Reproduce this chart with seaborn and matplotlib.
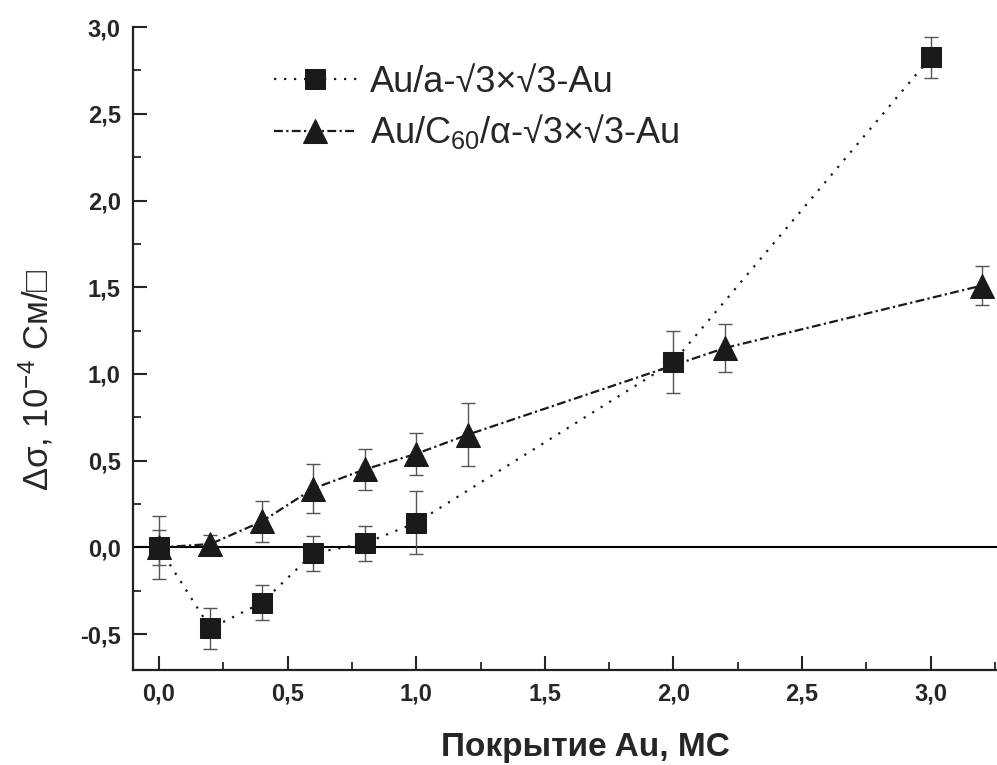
import numpy as np
import pandas as pd
import matplotlib
matplotlib.use("Agg")
import matplotlib.pyplot as plt
import seaborn as sns
from matplotlib.ticker import MultipleLocator, FuncFormatter

# data
sq_x = [0.0, 0.2, 0.4, 0.6, 0.8, 1.0, 2.0, 3.0]
sq_y = [0.0, -0.466, -0.318, -0.033, 0.024, 0.143, 1.069, 2.825]
sq_err = [0.18, 0.12, 0.10, 0.10, 0.10, 0.18, 0.18, 0.12]

tr_x = [0.0, 0.2, 0.4, 0.6, 0.8, 1.0, 1.2, 2.2, 3.2]
tr_y = [0.0, 0.02, 0.15, 0.34, 0.45, 0.54, 0.65, 1.15, 1.51]
tr_err = [0.10, 0.05, 0.12, 0.14, 0.12, 0.12, 0.18, 0.14, 0.11]

label_sq = "Au/a-√3×√3-Au"
label_tr = "Au/C$_{60}$/α-√3×√3-Au"

sq = pd.DataFrame({"x": sq_x, "y": sq_y})
tr = pd.DataFrame({"x": tr_x, "y": tr_y})

sns.set_style("ticks")
plt.rcParams["font.family"] = ["Liberation Sans", "DejaVu Sans"]
plt.rcParams["mathtext.default"] = "regular"

fig = plt.figure(figsize=(9.97, 7.65), dpi=100)
ax = fig.add_axes([0.1337, 0.1242, 0.8663, 0.8405])

# zero line
ax.axhline(0, color="black", lw=1.5, zorder=1)

# error bars
ax.errorbar(sq_x, sq_y, yerr=sq_err, fmt="none", ecolor="#555555",
            elinewidth=1.0, capsize=5, capthick=1.0, zorder=2)
ax.errorbar(tr_x, tr_y, yerr=tr_err, fmt="none", ecolor="#555555",
            elinewidth=1.0, capsize=5, capthick=1.0, zorder=2)

# series
sns.lineplot(data=sq, x="x", y="y", ax=ax, color="#1a1a1a", lw=1.6,
             marker="s", markersize=14, markeredgecolor="#1a1a1a",
             dashes=False, linestyle=(0, (1, 3.5)), label=label_sq,
             zorder=3, sort=False)
sns.lineplot(data=tr, x="x", y="y", ax=ax, color="#1a1a1a", lw=1.6,
             marker="^", markersize=17, markeredgecolor="#1a1a1a",
             dashes=False, linestyle=(0, (4, 1.5, 1, 1.5)), label=label_tr,
             zorder=3, sort=False)

ax.set_xlim(-0.1, 3.258)
ax.set_ylim(-0.706, 3.0)

ax.xaxis.set_major_locator(MultipleLocator(0.5))
ax.xaxis.set_minor_locator(MultipleLocator(0.25))
ax.yaxis.set_major_locator(MultipleLocator(0.5))
ax.yaxis.set_minor_locator(MultipleLocator(0.25))
fmt = FuncFormatter(lambda v, p: f"{v:.1f}".replace(".", ","))
ax.xaxis.set_major_formatter(fmt)
ax.yaxis.set_major_formatter(fmt)

ax.tick_params(which="major", direction="in", length=10, width=1.5,
               labelsize=17, pad=9)
ax.tick_params(which="minor", direction="in", length=6, width=1.3)
for lab in ax.get_xticklabels() + ax.get_yticklabels():
    lab.set_fontweight("bold")

for s in ["top", "right"]:
    ax.spines[s].set_visible(False)
for s in ["left", "bottom"]:
    ax.spines[s].set_linewidth(1.6)
    ax.spines[s].set_color("#222222")

ax.set_xlabel("Покрытие Au, МС", fontsize=24, fontweight="bold")
ax.xaxis.set_label_coords(0.523, -0.097)
ax.set_ylabel("Δσ, 10$^{-4}$ См/□", fontsize=25,
              family=["Liberation Sans", "DejaVu Sans"])
ax.yaxis.set_label_coords(-0.090, 0.451)

ax.legend(loc="upper left", bbox_to_anchor=(0.146, 0.964), frameon=False,
          fontsize=26, handlelength=2.3, handletextpad=0.36, labelspacing=0.35,
          borderaxespad=0)

fig.savefig("out.png", dpi=100)
